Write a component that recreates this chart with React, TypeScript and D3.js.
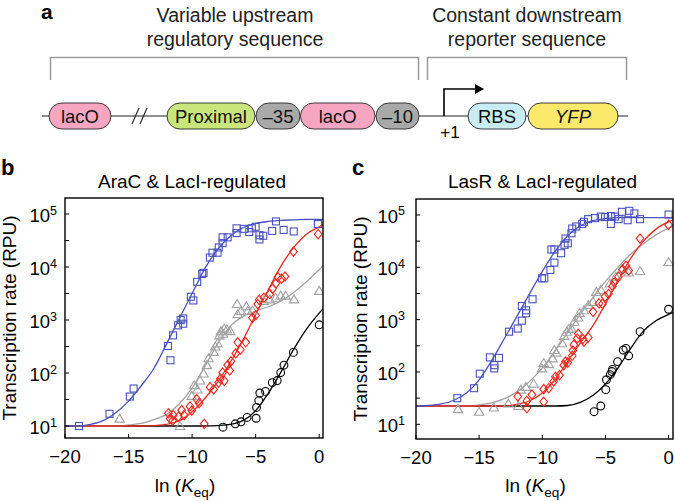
import React from 'react';
import * as d3 from 'd3';

// ---------- Panel b data (ln Keq, RPU) ----------
const bBlue: [number, number][] = [[-18.9,10],[-16.5,17],[-14.9,36],[-14.6,51],[-11.9,324],[-11.7,174],[-11.5,513],[-11.1,794],[-10.9,1000],[-10.7,1070],[-10.7,851],[-10.1,2750],[-9.9,2340],[-9.6,5250],[-9.2,7410],[-9.1,7760],[-8.6,15100],[-8.4,18600],[-8.0,18600],[-7.9,23400],[-7.6,36300],[-7.6,28200],[-7.2,36300],[-6.5,43600],[-6.5,53700],[-5.9,52500],[-5.5,45700],[-5.3,53700],[-5.0,57500],[-4.7,39800],[-4.7,33100],[-4.4,38900],[-3.7,47900],[-3.4,72400],[-2.8,50100],[-2.0,46800],[-0.1,64600]];
const bRed: [number, number][] = [[-11.87,17.4],[-11.74,13.8],[-11.48,16],[-11.53,12.6],[-11.08,15],[-10.82,20],[-10.63,16],[-10.16,23.4],[-10.03,19.5],[-9.63,32],[-9.45,27],[-9.05,11],[-8.58,54],[-8.31,49],[-7.92,66],[-7.78,78],[-7.6,102],[-7.47,71],[-7.2,141],[-7.04,112],[-6.94,166],[-6.57,234],[-6.41,380],[-6.2,275],[-5.78,380],[-5.25,1100],[-4.99,1230],[-4.83,2000],[-4.72,2400],[-4.35,2630],[-3.88,3090],[-3.67,3890],[-3.4,4900],[-3.25,6460],[-2.96,6030],[-2.69,6610],[-2.03,19500],[-0.08,41700]];
const bGray: [number, number][] = [[-15.7,13.8],[-10.95,10],[-10.03,37],[-9.84,59],[-9.58,49],[-9.37,72],[-9.1,98],[-8.84,141],[-8.71,190],[-8.31,251],[-8.18,316],[-8.0,363],[-7.84,513],[-7.73,617],[-7.57,550],[-7.47,692],[-7.26,661],[-7.0,617],[-6.46,2000],[-6.41,1290],[-6.15,1480],[-5.73,1820],[-5.62,1480],[-5.25,1510],[-4.35,2290],[-3.88,2450],[-3.43,2630],[-3.03,2880],[-2.64,2880],[-1.98,2450],[0,3550]];
const bBlack: [number, number][] = [[-7.57,9.5],[-6.6,11],[-6.15,12],[-5.67,14.5],[-4.96,14],[-4.93,22.4],[-4.75,30],[-4.67,42],[-4.22,45],[-3.69,66],[-3.3,72],[-3.03,102],[-2.77,141],[-2.03,245],[0,813]];

const bFitX = [-20,-19,-18,-17,-16,-15,-14,-13,-12,-11,-10,-9,-8,-7,-6,-5,-4,-3,-2,-1,0,0.3];
const bBlueFit = [10,10,10.7,12.6,17.8,29.5,57.5,123,355,1070,3160,9330,21400,38000,55000,66100,72400,75900,77600,79400,79400,79400];
const bRedFit = [10,10,10,10,10,10,10,10.2,10.7,12.6,18.6,33.1,67.6,158,417,1260,3720,10500,23400,41700,57500,63100];
const bGrayFit = [10,10,10,10,10,10.5,11.2,13.2,16.6,26.3,52.5,132,355,759,1170,1480,1780,2290,3310,5250,8910,10500];
const bBlackFit = [10,10,10,10,10,10,10,10,10,10,10,10,10.2,10.7,12.6,19.5,41.7,105,282,676,1350,1620];

// ---------- Panel c data ----------
const cBlue: [number, number][] = [[-16.73,31.6],[-15.4,49],[-14.95,93],[-14.15,190],[-13.8,117],[-13.8,135],[-13.43,186],[-12.63,589],[-11.94,676],[-11.62,955],[-11.62,1820],[-11.28,1320],[-11.28,1510],[-10.77,2450],[-10.03,6170],[-9.84,6170],[-9.36,8910],[-9.04,12300],[-9.28,21900],[-9.04,21900],[-8.51,18600],[-8.24,26900],[-8.16,35500],[-7.98,28800],[-7.69,44700],[-7.63,55000],[-7.31,60300],[-6.84,67600],[-6.7,74100],[-6.38,83200],[-5.82,87100],[-5.37,93300],[-5.03,91200],[-4.57,95500],[-4.57,67600],[-4.23,93300],[-3.96,83200],[-3.7,115000],[-3.24,79400],[-3.11,120000],[-2.71,107000],[-2.26,83200],[0,102000]];
const cRed: [number, number][] = [[-11.94,34],[-11.22,20.4],[-11.22,28],[-10.82,37],[-9.89,27],[-9.89,47],[-9.49,49],[-9.1,66],[-8.96,81],[-8.64,87],[-8.3,135],[-8.16,158],[-7.98,151],[-7.63,204],[-7.58,257],[-7.5,331],[-7.23,437],[-7.15,537],[-6.78,427],[-6.7,380],[-6.36,457],[-5.98,1410],[-5.51,2040],[-5.24,2000],[-5.03,2750],[-4.76,3090],[-4.44,4370],[-4.31,5130],[-3.96,6610],[-3.64,9120],[-3.38,10700],[-3.16,8710],[-2.26,35500],[0,64600]];
const cGray: [number, number][] = [[-16.68,19.5],[-15.0,17.4],[-13.83,21],[-12.69,25],[-11.89,22.4],[-11.7,46],[-11.3,52],[-10.69,60],[-10.03,117],[-9.89,148],[-9.49,141],[-9.18,182],[-9.04,263],[-8.88,234],[-8.43,355],[-8.27,490],[-8.06,589],[-7.9,661],[-7.69,676],[-7.47,912],[-7.15,1100],[-7.05,1350],[-6.7,1510],[-6.36,1900],[-5.98,2190],[-5.72,3390],[-5.37,3720],[-4.65,4900],[-4.18,6610],[-3.7,9120],[-3.16,7940],[-2.26,8510],[0,12600]];
const cBlack: [number, number][] = [[-5.9,17.4],[-5.37,22.4],[-4.97,46],[-4.92,71],[-4.62,89],[-4.49,102],[-4.44,112],[-4.04,158],[-3.59,263],[-3.38,282],[-3.16,204],[-2.26,589],[0,1580]];

const cFitX = [-20,-19,-18,-17,-16,-15,-14,-13,-12,-11,-10,-9,-8,-7,-6,-5,-4,-3,-2,-1,0,0.35];
const cBlueFit = [22.4,22.9,24.5,28.8,39.8,70.8,166,437,1170,3160,8320,20000,39800,61700,77600,85100,89100,89100,89100,89100,89100,89100];
const cRedFit = [22.4,22.4,22.4,22.4,22.4,22.4,22.4,22.4,24,28.2,39.8,71,158,355,759,2000,5620,14800,31600,53700,74100,81000];
const cGrayFit = [22.4,22.4,22.4,22.4,22.4,23.4,25.7,30.9,41.7,66.1,120,251,562,1260,2630,5370,10000,17800,28200,41700,56200,61000];
const cBlackFit = [22.4,22.4,22.4,22.4,22.4,22.4,22.4,22.4,22.4,22.4,22.4,22.4,22.9,26.3,35.5,58.9,120,282,603,955,1260,1360];

// ---------- Axes ----------
const xTicks = [-20, -15, -10, -5, 0];
const xTickLabels = ['\u221220', '\u221215', '\u221210', '\u22125', '0'];
const yTickExps = [1, 2, 3, 4, 5];

// ---------- Panel a ----------
const partLabels = ['lacO', 'Proximal', '\u201335', 'lacO', '\u201310', 'RBS', 'YFP'];
const partColors = ['#f7a6c2', '#c9e67d', '#a9a9a9', '#f7a6c2', '#a9a9a9', '#c9edf4', '#fbe96c'];
const sectionTitles = [['Variable upstream', 'regulatory sequence'], ['Constant downstream', 'reporter sequence']];

const FONT = "'Liberation Sans', Arial, Helvetica, sans-serif";
const BLUE = '#4852bd';
const RED = '#e8281f';
const GRAY = '#a2a2a2';
const BLACK = '#000000';

type Pt = [number, number];

function marker(kind: string, x: number, y: number, color: string, key: string) {
  const sw = 1.1;
  if (kind === 'square') {
    return <rect key={key} x={x - 3.5} y={y - 3.5} width={7} height={7} fill="none" stroke={color} strokeWidth={sw} />;
  }
  if (kind === 'diamond') {
    const d = `M${x},${y - 4.7}L${x + 3.8},${y}L${x},${y + 4.7}L${x - 3.8},${y}Z`;
    return <path key={key} d={d} fill="none" stroke={color} strokeWidth={sw} />;
  }
  if (kind === 'triangle') {
    const d = `M${x},${y - 4.5}L${x + 4.7},${y + 3.5}L${x - 4.7},${y + 3.5}Z`;
    return <path key={key} d={d} fill="none" stroke={color} strokeWidth={sw} />;
  }
  return <circle key={key} cx={x} cy={y} r={3.9} fill="none" stroke={color} strokeWidth={sw} />;
}

interface PanelProps {
  id: string;
  letter: string;
  title: string;
  left: number; right: number; top: number; bottom: number;
  xDomain: [number, number];
  yDomain: [number, number];
  fitX: number[];
  fits: { vals: number[]; color: string }[];
  series: { pts: Pt[]; color: string; kind: string }[];
  letterX: number;
  ylabelX: number;
  tickLabelGap: number;
}

function Panel(p: PanelProps) {
  const x = d3.scaleLinear().domain(p.xDomain).range([p.left, p.right]);
  const y = d3.scaleLog().domain(p.yDomain).range([p.bottom, p.top]);
  const line = d3.line<[number, number]>().x(d => x(d[0])).y(d => y(d[1])).curve(d3.curveMonotoneX);
  const midX = (p.left + p.right) / 2;
  const minor = yTickExps.slice(0, 4).map(e => Math.pow(10, e + 0.5));
  return (
    <g fontFamily={FONT}>
      <defs>
        <clipPath id={`clip-${p.id}`}>
          <rect x={p.left} y={p.top} width={p.right - p.left} height={p.bottom - p.top} />
        </clipPath>
      </defs>
      <text x={p.letterX} y={175} fontSize={22} fontWeight="bold">{p.letter}</text>
      <text x={midX - 2} y={188} fontSize={19} textAnchor="middle">{p.title}</text>
      <g clipPath={`url(#clip-${p.id})`}>
        {p.fits.map((f, i) => (
          <path key={i} d={line(p.fitX.map((xx, j) => [xx, f.vals[j]] as [number, number])) || ''} fill="none" stroke={f.color} strokeWidth={1.3} />
        ))}
        {p.series.map((s, i) => s.pts.map((pt, j) => marker(s.kind, x(pt[0]), y(pt[1]), s.color, `${i}-${j}`)))}
      </g>
      <rect x={p.left} y={p.top} width={p.right - p.left} height={p.bottom - p.top} fill="none" stroke="#000" strokeWidth={1.4} />
      {xTicks.map((t, i) => (
        <g key={`xt${i}`}>
          <line x1={x(t)} x2={x(t)} y1={p.bottom} y2={p.bottom - 4} stroke="#000" strokeWidth={1} />
          <text x={x(t)} y={p.bottom + 25} fontSize={18.5} textAnchor="middle">{xTickLabels[i]}</text>
        </g>
      ))}
      {yTickExps.map(e => {
        const v = Math.pow(10, e);
        return (
          <g key={`yt${e}`}>
            <line x1={p.left} x2={p.left + 4} y1={y(v)} y2={y(v)} stroke="#000" strokeWidth={1} />
            <text x={p.left - p.tickLabelGap} y={y(v) + 8} fontSize={18.5} textAnchor="end">10<tspan dy={-7.5} fontSize={12.5}>{e}</tspan></text>
          </g>
        );
      })}
      {minor.map((v, i) => (
        <line key={`ym${i}`} x1={p.left} x2={p.left + 4} y1={y(v)} y2={y(v)} stroke="#000" strokeWidth={1} />
      ))}
      <text x={midX - 9} y={492} fontSize={19} textAnchor="middle">ln (<tspan fontStyle="italic">K</tspan><tspan fontSize={13.5} dy={5}>eq</tspan><tspan dy={-5}>)</tspan></text>
      <text transform={`translate(${p.ylabelX},${(p.top + p.bottom) / 2}) rotate(-90)`} fontSize={19} textAnchor="middle">Transcription rate (RPU)</text>
    </g>
  );
}

function Construct() {
  // layout of parts (pixel positions), separate from labels
  const layout = [[49, 62], [167, 88], [256, 44], [300.5, 74.5], [376, 43], [468, 58], [528, 90]];
  const cy = 116;
  const h = 26;
  return (
    <g fontFamily={FONT}>
      <text x={41} y={19} fontSize={21} fontWeight="bold">a</text>
      <text x={235} y={22} fontSize={19.5} textAnchor="middle" fill="#222">{sectionTitles[0][0]}</text>
      <text x={235} y={46} fontSize={19.5} textAnchor="middle" fill="#222">{sectionTitles[0][1]}</text>
      <text x={527} y={22} fontSize={19.5} textAnchor="middle" fill="#222">{sectionTitles[1][0]}</text>
      <text x={527} y={46} fontSize={19.5} textAnchor="middle" fill="#222">{sectionTitles[1][1]}</text>
      <path d="M50.5,80V57.5H418.5V80" fill="none" stroke="#9a9a9a" strokeWidth={1.5} />
      <path d="M427.5,80V57.5H626.5V80" fill="none" stroke="#9a9a9a" strokeWidth={1.5} />
      <line x1={42} x2={628} y1={cy} y2={cy} stroke="#222" strokeWidth={1.1} />
      <line x1={132} x2={139} y1={cy + 8} y2={cy - 8} stroke="#222" strokeWidth={1.1} />
      <line x1={140} x2={147} y1={cy + 8} y2={cy - 8} stroke="#222" strokeWidth={1.1} />
      <path d={`M444,${cy}V89H475`} fill="none" stroke="#000" strokeWidth={1.6} />
      <path d="M475,84L484,89L475,94Z" fill="#000" />
      <text x={450} y={138} fontSize={17} textAnchor="middle">+1</text>
      {partLabels.map((lab, i) => {
        const [px, w] = layout[i];
        return (
          <g key={i}>
            <rect x={px} y={cy - h / 2} width={w} height={h} rx={h / 2} ry={h / 2} fill={partColors[i]} stroke="#3a3a3a" strokeWidth={1} />
            <text x={px + w / 2} y={cy + 6.5} fontSize={18.5} textAnchor="middle" fontStyle={lab === 'YFP' ? 'italic' : 'normal'} fill="#111">{lab}</text>
          </g>
        );
      })}
    </g>
  );
}

export default function App() {
  return (
    <svg width={675} height={501} viewBox="0 0 675 501" style={{ position: 'absolute', left: 0, top: 0, background: '#fff' }}>
      <rect x={0} y={0} width={675} height={501} fill="#fff" />
      <Construct />
      <Panel
        id="b" letter="b" title="AraC & LacI-regulated"
        left={65} right={323} top={198} bottom={438}
        xDomain={[-20, 0.3]} yDomain={[5.94, 200500]}
        fitX={bFitX}
        fits={[{ vals: bBlackFit, color: BLACK }, { vals: bGrayFit, color: GRAY }, { vals: bRedFit, color: RED }, { vals: bBlueFit, color: BLUE }]}
        series={[{ pts: bGray, color: GRAY, kind: 'triangle' }, { pts: bBlack, color: BLACK, kind: 'circle' }, { pts: bRed, color: RED, kind: 'diamond' }, { pts: bBlue, color: BLUE, kind: 'square' }]}
        letterX={1} ylabelX={16} tickLabelGap={8}
      />
      <Panel
        id="c" letter="c" title="LasR & LacI-regulated"
        left={416} right={673} top={199} bottom={439}
        xDomain={[-20, 0.35]} yDomain={[5.24, 202000]}
        fitX={cFitX}
        fits={[{ vals: cBlackFit, color: BLACK }, { vals: cGrayFit, color: GRAY }, { vals: cRedFit, color: RED }, { vals: cBlueFit, color: BLUE }]}
        series={[{ pts: cGray, color: GRAY, kind: 'triangle' }, { pts: cBlack, color: BLACK, kind: 'circle' }, { pts: cRed, color: RED, kind: 'diamond' }, { pts: cBlue, color: BLUE, kind: 'square' }]}
        letterX={352} ylabelX={367} tickLabelGap={11}
      />
    </svg>
  );
}
